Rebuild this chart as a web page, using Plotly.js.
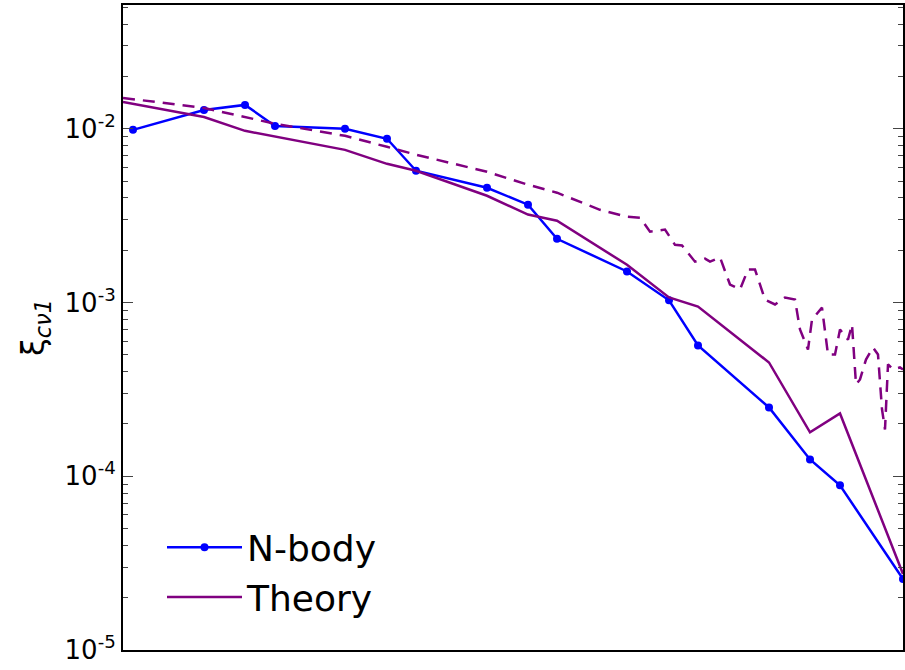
<!DOCTYPE html>
<html>
<head>
<meta charset="utf-8">
<script src="https://cdn.plot.ly/plotly-3.0.1.min.js"></script>
<style>body{margin:0;background:#fff}</style>
</head>
<body>
<div id="chart" style="width:905px;height:670px"></div>
<script>
// x positions are in arbitrary units (no x tick labels in the figure)
var nbodyX = [10, 81, 122, 152, 222, 264, 293, 364, 405, 434, 504, 546, 575, 646, 687, 717, 780];
var nbodyY = [0.00987, 0.01285, 0.01374, 0.0104, 0.0100, 0.00877, 0.00574, 0.00458, 0.00366, 0.00233,
  0.00151, 0.00103, 0.000566, 0.000249, 0.000125, 0.0000887, 0.0000256];

var theoryX = [0, 81, 122, 222, 264, 293, 364, 405, 434, 504, 546, 575, 646, 687, 717, 780];
var theoryY = [0.0143, 0.0117, 0.00974, 0.00757, 0.00629, 0.00574, 0.00412, 0.00321, 0.00296, 0.00165,
  0.00107, 0.000949, 0.000452, 0.000179, 0.00023, 0.0000274];

var dashX = [0, 81, 152, 222, 264, 293, 364, 405, 434, 477, 504, 517, 527, 542, 552, 559, 572, 582, 587, 597,
  607, 617, 625, 632, 642, 652, 662, 672, 677, 685, 689, 699, 705, 712, 717, 725, 729, 733, 737, 743, 750, 755,
  759, 762, 765, 770, 777, 780];
var dashY = [0.01507, 0.0132, 0.0107, 0.00912, 0.00788, 0.00710, 0.00566, 0.00477, 0.00429, 0.00342, 0.00312,
  0.00308, 0.00256, 0.00263, 0.00215, 0.00213, 0.00172, 0.00179, 0.00172, 0.00182, 0.00127, 0.00119, 0.00155,
  0.00155, 0.00104, 0.000975, 0.00107, 0.00104, 0.000700, 0.000537, 0.000798, 0.000935, 0.000502, 0.000502,
  0.000700, 0.000612, 0.000748, 0.000338, 0.000361, 0.000470, 0.000551, 0.000502, 0.000243, 0.000186,
  0.000441, 0.000412, 0.000423, 0.000412];

var yTickVals = [1e-5, 1e-4, 1e-3, 1e-2];
var yTickText = ['10<sup>-5</sup>', '10<sup>-4</sup>', '10<sup>-3</sup>', '10<sup>-2</sup>'];

var data = [
  {x: nbodyX, y: nbodyY, mode: 'lines+markers', name: 'N-body',
   line: {color: '#0000ff', width: 2.5}, marker: {color: '#0000ff', size: 8}},
  {x: theoryX, y: theoryY, mode: 'lines', name: 'Theory',
   line: {color: '#800080', width: 2.5}},
  {x: dashX, y: dashY, mode: 'lines', showlegend: false,
   line: {color: '#800080', width: 2.5, dash: '12px,8px'}}
];

var layout = {
  width: 905, height: 670,
  margin: {l: 123, r: 2, t: 5, b: 20},
  paper_bgcolor: '#fff', plot_bgcolor: '#fff',
  font: {family: 'DejaVu Sans, sans-serif', color: '#000'},
  showlegend: true,
  legend: {x: 0.05, y: 0.035, xanchor: 'left', yanchor: 'bottom', bgcolor: 'rgba(0,0,0,0)',
    font: {size: 36}, itemwidth: 75, tracegroupgap: 10},
  xaxis: {range: [0, 780], showticklabels: false, showgrid: false, zeroline: false,
    showline: true, mirror: true, linecolor: '#000', linewidth: 2, ticks: ''},
  yaxis: {type: 'log', range: [-5, -1.287], tickvals: yTickVals, ticktext: yTickText,
    ticks: 'inside', ticklen: 10, tickwidth: 1, showgrid: false, zeroline: false,
    showline: true, mirror: 'ticks', linecolor: '#000', linewidth: 2,
    tickfont: {size: 26},
    minor: {ticks: 'inside', ticklen: 5, dtick: 'D1', showgrid: false},
    title: {text: 'ξ<sub><i>cν1</i></sub>', font: {size: 32}, standoff: 10}}
};

Plotly.newPlot('chart', data, layout, {displayModeBar: false});
</script>
</body>
</html>
